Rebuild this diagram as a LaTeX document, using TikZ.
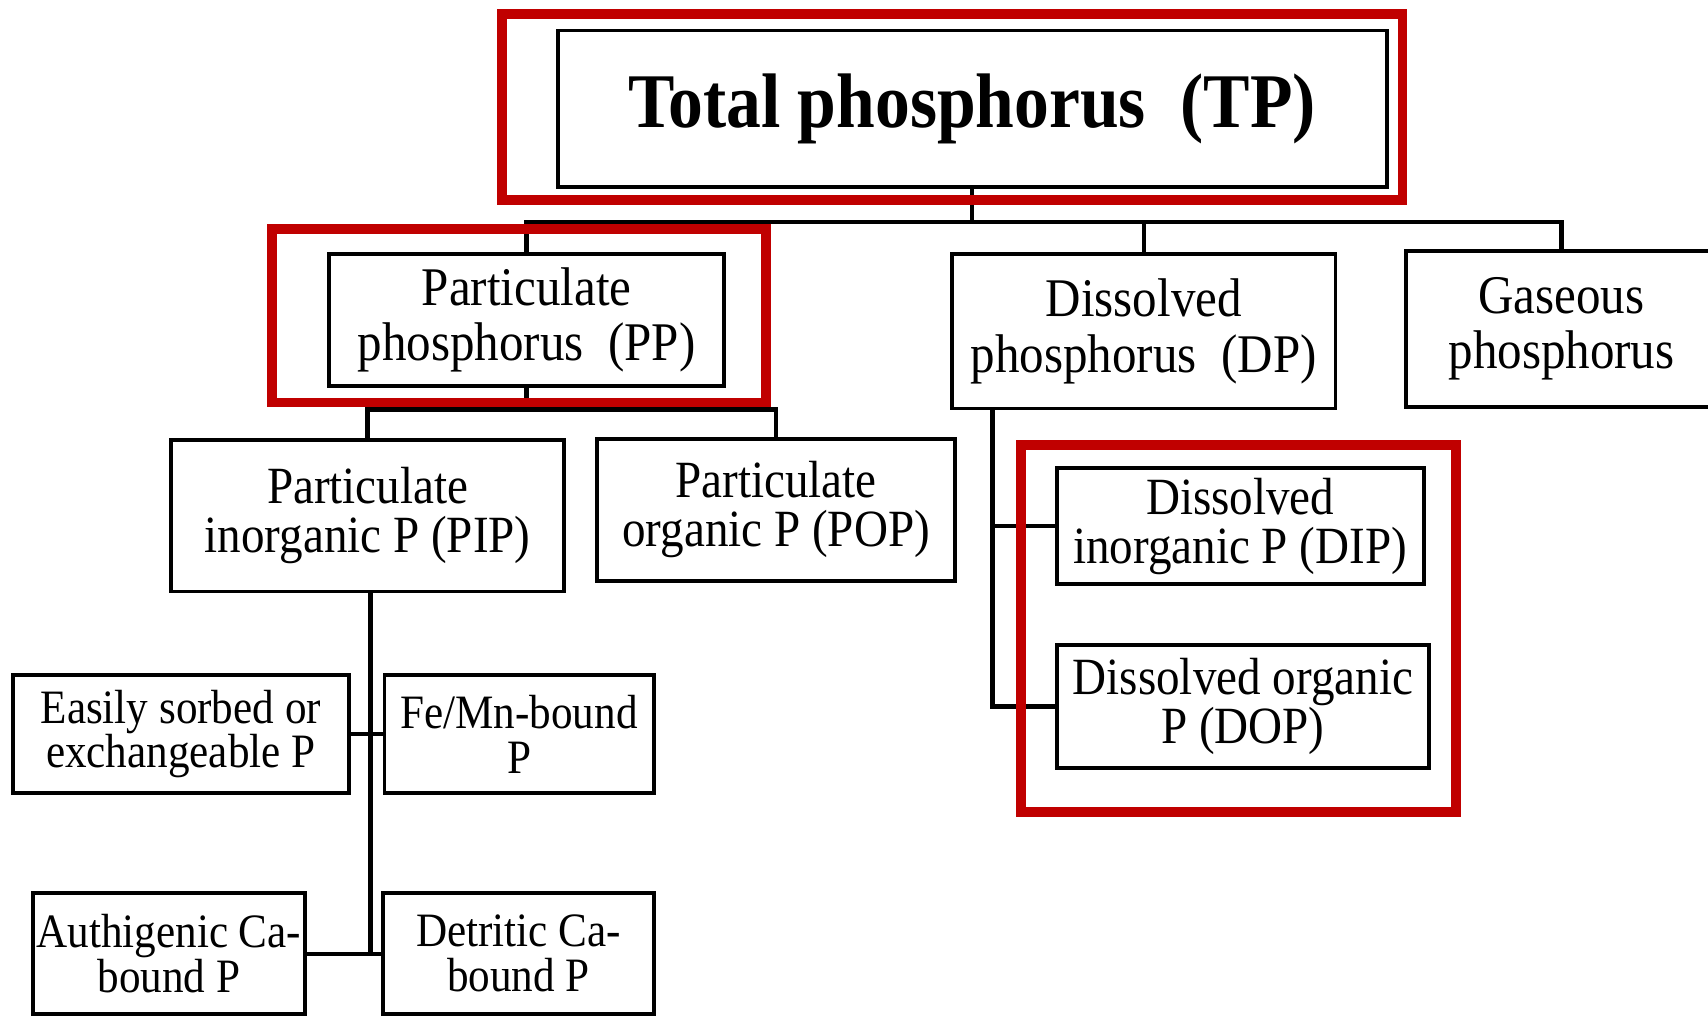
\documentclass[tikz,border=0pt]{standalone}
\usepackage{fontspec}
\setmainfont{Liberation Serif}[FakeStretch=0.9]
\definecolor{tpred}{RGB}{192,0,0}
\tikzset{
  box/.style={draw, rectangle, line width=1.8pt, align=center, inner sep=0pt},
  conn/.style={line width=2pt},
  redframe/.style={draw=tpred, line width=4.5pt},
  fTP/.style={font=\fontsize{35.5}{38}\selectfont\bfseries},
  fA/.style={font=\fontsize{25}{25.5}\selectfont},
  fB/.style={font=\fontsize{24}{22.5}\selectfont},
  fC/.style={font=\fontsize{22}{20.5}\selectfont},
}
\begin{document}
\begin{tikzpicture}[x=0.5pt,y=-0.5pt]
\useasboundingbox (0,0) rectangle (1568,934);
\clip (0,0) rectangle (1568,934);
\fill[white] (0,0) rectangle (1568,934);

% boxes
\node[box, fTP, minimum width=380.5pt, minimum height=72pt] (tp) at (892.5,100) {Total phosphorus~~(TP)};
\node[box, fA, minimum width=181.5pt, minimum height=60.5pt] (pp) at (483.5,293.5) {Particulate\\phosphorus~~(PP)};
\node[box, fA, minimum width=176pt, minimum height=71pt] (dp) at (1050,304) {Dissolved\\phosphorus~~(DP)};
\node[box, fA, minimum width=142.5pt, minimum height=72pt] (gas) at (1433.5,302) {Gaseous\\phosphorus};
\node[box, fB, minimum width=180.5pt, minimum height=69.5pt] (pip) at (337.5,473.5) {Particulate\\inorganic P (PIP)};
\node[box, fB, minimum width=164.5pt, minimum height=65pt] (pop) at (712.5,468) {Particulate\\organic P (POP)};
\node[box, fC, minimum width=154pt, minimum height=54pt] (easy) at (166,674) {Easily sorbed or\\exchangeable P};
\node[box, fC, minimum width=123.5pt, minimum height=54pt] (fe) at (476.5,674) {Fe/Mn-bound\\P};
\node[box, fC, minimum width=125pt, minimum height=55.5pt] (auth) at (155,875.5) {Authigenic Ca-\\bound P};
\node[box, fC, minimum width=124pt, minimum height=55.5pt] (det) at (476,875.5) {Detritic Ca-\\bound P};
\node[box, fB, minimum width=168.5pt, minimum height=53pt] (dip) at (1138.5,483) {Dissolved\\inorganic P (DIP)};
\node[box, fB, minimum width=171pt, minimum height=56.5pt] (dop) at (1141,648.5) {Dissolved organic\\P (DOP)};

% connectors
\coordinate (tpbus) at (892.5,204);
\draw[conn] (tp.south) -- (tpbus);
\draw[conn] (pp.north) |- (tpbus);
\draw[conn] (dp.north) |- (tpbus);
\draw[conn] (gas.north) |- (tpbus);

\coordinate (ppbus) at (483.5,376);
\draw[conn] (pp.south) -- (ppbus);
\draw[conn] (pip.north) |- (ppbus);
\draw[conn] (pop.north) |- (ppbus);

\coordinate (piptap) at (340,543);
\draw[conn] (piptap) |- (auth.east);
\draw[conn] (auth.east) -- (det.west);
\draw[conn] (easy.east) -- (fe.west);

\coordinate (dptap) at (911,375);
\draw[conn] (dptap) |- (dip.west);
\draw[conn] (dptap) |- (dop.west);

% red frames
\draw[redframe] (460.5,12.5) rectangle (1287.5,183.5);
\draw[redframe] (249.5,210.5) rectangle (703.5,369.5);
\draw[redframe] (937.5,408.5) rectangle (1336.5,745.5);
\end{tikzpicture}
\end{document}
